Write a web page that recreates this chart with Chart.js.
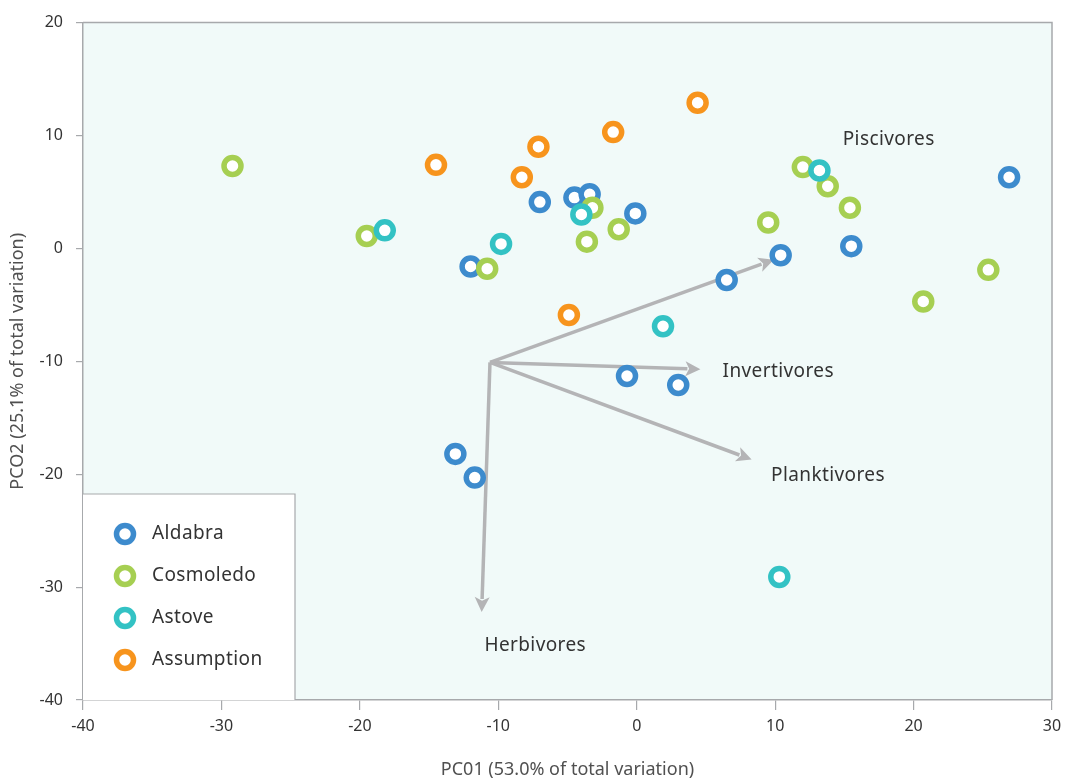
<!DOCTYPE html>
<html>
<head>
<meta charset="utf-8">
<script src="https://cdn.jsdelivr.net/npm/chart.js@4/dist/chart.umd.min.js"></script>
<style>
  html, body { margin: 0; padding: 0; background: #ffffff; }
  #wrap { width: 1069px; height: 782px; }
</style>
</head>
<body>
<div id="wrap"><canvas id="c" width="1069" height="782"></canvas></div>
<script>
// PCO scores per site (PC01, PC02)
const aldabraX = [26.9, -4.5, -3.4, -7.0, -0.1, -12.0, 10.4, 15.5, 6.5, -0.7, 3.0, -13.1, -11.7];
const aldabraY = [6.3, 4.5, 4.8, 4.1, 3.1, -1.6, -0.6, 0.2, -2.8, -11.3, -12.1, -18.2, -20.3];

const cosmoledoX = [-29.2, -19.5, -10.8, -3.2, -3.6, -1.3, 9.5, 12.0, 13.8, 15.4, 20.7, 25.4];
const cosmoledoY = [7.3, 1.1, -1.8, 3.6, 0.6, 1.7, 2.3, 7.2, 5.5, 3.6, -4.7, -1.9];

const astoveX = [-18.2, -9.8, -4.0, 13.2, 1.9, 10.3];
const astoveY = [1.6, 0.4, 3.0, 6.9, -6.9, -29.1];

const assumptionX = [-14.5, -8.3, -7.1, -1.7, 4.4, -4.9];
const assumptionY = [7.4, 6.3, 9.0, 10.3, 12.9, -5.9];

// Trophic group vectors (origin and tips in PCO space)
const vectorOrigin = [-10.6, -10.1];
const vectorNames = ['Piscivores', 'Invertivores', 'Planktivores', 'Herbivores'];
const vectorTipX = [9.9, 4.6, 8.3, -11.2];
const vectorTipY = [-1.0, -10.7, -18.7, -32.2];

// Axis ticks
const xTicks = [-40, -30, -20, -10, 0, 10, 20, 30];
const yTicks = [20, 10, 0, -10, -20, -30, -40];

const seriesNames = ['Aldabra', 'Cosmoledo', 'Astove', 'Assumption'];
const seriesColors = ['#3d8bcd', '#a6cf52', '#33c2c4', '#f7941d'];

const toPoints = (xs, ys) => xs.map((x, i) => ({ x: x, y: ys[i] }));
const seriesData = [
  toPoints(aldabraX, aldabraY),
  toPoints(cosmoledoX, cosmoledoY),
  toPoints(astoveX, astoveY),
  toPoints(assumptionX, assumptionY)
];

const RING_R = 8.5, RING_W = 5.5;
const GRAY = '#a7a9ac';
const TEXT = '#333333';
const LABEL_FONT = '19px "Noto Sans", "Open Sans", sans-serif';
const LABEL_SPACING = '0.4px';

// Label placement for each vector, [x, y, align]
const vectorLabelPos = [
  [18.2, 9.6, 'center'],
  [6.2, -10.9, 'left'],
  [9.7, -20.1, 'left'],
  [-11.0, -35.2, 'left']
];

const plotBackground = {
  id: 'plotBackground',
  beforeDraw(chart) {
    const { ctx, chartArea: a } = chart;
    ctx.save();
    ctx.fillStyle = '#f1faf9';
    ctx.fillRect(a.left, a.top, a.right - a.left, a.bottom - a.top);
    ctx.restore();
  },
  afterDraw(chart) {
    const { ctx, chartArea: a } = chart;
    ctx.save();
    ctx.strokeStyle = GRAY;
    ctx.lineWidth = 1.5;
    ctx.beginPath();
    ctx.moveTo(a.left, a.top);
    ctx.lineTo(a.right, a.top);
    ctx.lineTo(a.right, a.bottom);
    ctx.stroke();
    ctx.restore();
  }
};

const vectorArrows = {
  id: 'vectorArrows',
  beforeDatasetsDraw(chart) {
    const { ctx, scales: { x, y } } = chart;
    const ox = x.getPixelForValue(vectorOrigin[0]);
    const oy = y.getPixelForValue(vectorOrigin[1]);
    ctx.save();
    ctx.strokeStyle = '#b4b4b6';
    ctx.fillStyle = '#b4b4b6';
    ctx.lineWidth = 3.5;
    ctx.lineCap = 'butt';
    vectorNames.forEach((name, i) => {
      const tx = x.getPixelForValue(vectorTipX[i]);
      const ty = y.getPixelForValue(vectorTipY[i]);
      const ang = Math.atan2(ty - oy, tx - ox);
      const head = 15, half = 7.5;
      const bx = tx - head * Math.cos(ang);
      const by = ty - head * Math.sin(ang);
      ctx.beginPath();
      ctx.moveTo(ox, oy);
      ctx.lineTo(bx + 2 * Math.cos(ang), by + 2 * Math.sin(ang));
      ctx.stroke();
      ctx.beginPath();
      ctx.moveTo(tx, ty);
      ctx.lineTo(bx - half * Math.sin(ang), by + half * Math.cos(ang));
      ctx.lineTo(bx + head * 0.25 * Math.cos(ang), by + head * 0.25 * Math.sin(ang));
      ctx.lineTo(bx + half * Math.sin(ang), by - half * Math.cos(ang));
      ctx.closePath();
      ctx.fill();
    });
    ctx.fillStyle = TEXT;
    ctx.font = LABEL_FONT;
    ctx.letterSpacing = LABEL_SPACING;
    ctx.textBaseline = 'middle';
    vectorNames.forEach((name, i) => {
      const p = vectorLabelPos[i];
      ctx.textAlign = p[2];
      ctx.fillText(name, x.getPixelForValue(p[0]), y.getPixelForValue(p[1]));
    });
    ctx.restore();
  }
};

const boxedLegend = {
  id: 'boxedLegend',
  afterDatasetsDraw(chart) {
    const { ctx, chartArea: a } = chart;
    const w = 212, h = 206;
    const left = a.left, top = a.bottom - h;
    ctx.save();
    ctx.fillStyle = '#ffffff';
    ctx.fillRect(left, top, w, h);
    ctx.strokeStyle = GRAY;
    ctx.lineWidth = 1.2;
    ctx.beginPath();
    ctx.moveTo(left, top);
    ctx.lineTo(left + w, top);
    ctx.lineTo(left + w, a.bottom);
    ctx.stroke();
    ctx.font = LABEL_FONT;
    ctx.letterSpacing = LABEL_SPACING;
    ctx.textAlign = 'left';
    ctx.textBaseline = 'middle';
    seriesNames.forEach((name, i) => {
      const cy = top + 40 + i * 42;
      ctx.beginPath();
      ctx.arc(left + 42, cy, RING_R, 0, Math.PI * 2);
      ctx.fillStyle = '#ffffff';
      ctx.fill();
      ctx.lineWidth = RING_W;
      ctx.strokeStyle = seriesColors[i];
      ctx.stroke();
      ctx.fillStyle = TEXT;
      ctx.fillText(name, left + 69, cy);
    });
    ctx.restore();
  }
};

// Later sites are stacked above earlier ones (lower order = drawn on top)
const datasets = seriesNames.map((name, i) => ({
  label: name,
  data: seriesData[i],
  order: seriesNames.length - i,
  pointRadius: RING_R,
  pointHoverRadius: RING_R,
  borderWidth: RING_W,
  pointBorderWidth: RING_W,
  borderColor: seriesColors[i],
  backgroundColor: '#ffffff',
  pointBackgroundColor: '#ffffff',
  showLine: false
}));

const tickFont = { family: '"Noto Sans", "Open Sans", sans-serif', size: 16 };
const titleFont = { family: '"Noto Sans", "Open Sans", sans-serif', size: 18 };

new Chart(document.getElementById('c'), {
  type: 'scatter',
  data: { datasets },
  options: {
    responsive: false,
    animation: false,
    devicePixelRatio: 1,
    layout: { padding: { top: 19, right: 17, left: 0, bottom: 0 } },
    plugins: {
      legend: { display: false },
      tooltip: { enabled: false }
    },
    scales: {
      x: {
        type: 'linear',
        min: -40, max: 30,
        afterBuildTicks: s => { s.ticks = xTicks.map(v => ({ value: v })); },
        afterFit: s => { s.height = 82; },
        grid: { drawOnChartArea: false, tickLength: 10, color: GRAY, lineWidth: 1.2 },
        border: { color: GRAY, width: 1.5 },
        ticks: { color: TEXT, font: tickFont, padding: 7 },
        title: {
          display: true,
          text: 'PC01 (53.0% of total variation)',
          color: '#505050',
          font: titleFont,
          padding: { top: 4, bottom: 1 }
        }
      },
      y: {
        type: 'linear',
        min: -40, max: 20,
        afterBuildTicks: s => { s.ticks = yTicks.map(v => ({ value: v })); },
        afterFit: s => { s.width = 83; },
        grid: { drawOnChartArea: false, tickLength: 7, color: GRAY, lineWidth: 1.2 },
        border: { color: GRAY, width: 1.5 },
        ticks: { color: TEXT, font: tickFont, padding: 13 },
        title: {
          display: true,
          text: 'PCO2 (25.1% of total variation)',
          color: '#505050',
          font: titleFont,
          padding: { top: 7, bottom: 7 }
        }
      }
    }
  },
  plugins: [plotBackground, vectorArrows, boxedLegend]
});
</script>
</body>
</html>
